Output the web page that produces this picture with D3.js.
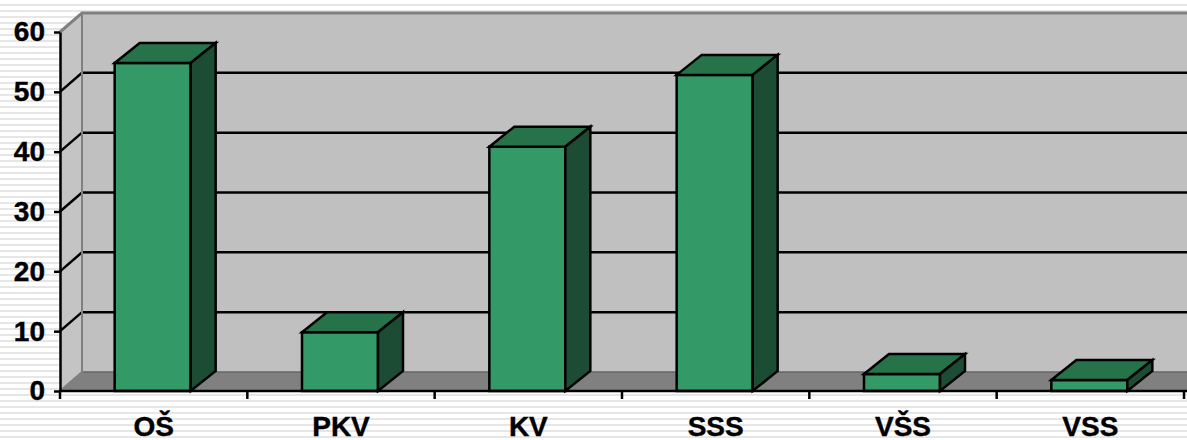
<!DOCTYPE html>
<meta charset="utf-8">
<style>
body { margin: 0; }
.lbl { font: bold 28px "Liberation Sans", Arial, sans-serif; fill: #000; stroke: #000; stroke-width: 0.4px; }
</style>
<div id="chart"></div>
<script src="https://d3js.org/d3.v7.min.js"></script>
<script>

// data
var categories = ["OŠ", "PKV", "KV", "SSS", "VŠS", "VSS"];
var values = [55, 10, 41, 53, 3, 2];
var yTicks = [0, 10, 20, 30, 40, 50, 60];

var width = 1187, height = 440;

// 3d depth of the walls and of the bars
var wallDx = 22, wallDy = -19;
var barDx = 25, barDy = -20;
var barW = 76;

var svg = d3.select("#chart")
  .append("svg")
    .attr("width", width)
    .attr("height", height);

// striped background
var pat = svg.append("defs").append("pattern")
    .attr("id", "stripes")
    .attr("patternUnits", "userSpaceOnUse")
    .attr("width", 8).attr("height", 6);
pat.append("rect").attr("width", 8).attr("height", 6).attr("fill", "#fff");
pat.append("rect").attr("y", 4).attr("width", 8).attr("height", 2).attr("fill", "#e6e6e6");

svg.append("rect")
    .attr("width", width).attr("height", height)
    .attr("fill", "url(#stripes)");

var x = d3.scaleBand()
    .domain(categories)
    .range([60, 1184]);

var y = d3.scaleLinear()
    .domain([0, 60])
    .range([391, 32]);

var y0 = y(0), yTop = y(60);

// back wall
svg.append("rect")
    .attr("x", 60 + wallDx).attr("y", yTop + wallDy)
    .attr("width", width).attr("height", y0 - yTop)
    .attr("fill", "#c0c0c0");

// side wall
svg.append("polygon")
    .attr("points", [[60, yTop], [60 + wallDx, yTop + wallDy], [60 + wallDx, y0 + wallDy], [60, y0]].join(" "))
    .attr("fill", "#c4c4c4");

// floor
svg.append("polygon")
    .attr("points", [[60, y0], [60 + wallDx, y0 + wallDy], [width + 5, y0 + wallDy], [width + 5, y0]].join(" "))
    .attr("fill", "#808080");
svg.append("line")
    .attr("x1", 60 + wallDx).attr("x2", width)
    .attr("y1", y0 + wallDy).attr("y2", y0 + wallDy)
    .attr("stroke", "#666").attr("stroke-width", 1.5);

// gridlines on back wall + diagonals on side wall
var grid = yTicks.filter(function(d) { return d > 0 && d < 60; });
svg.append("g").selectAll("path")
  .data(grid)
  .enter()
  .append("path")
    .attr("d", function(d) {
      return "M60," + y(d) + "L" + (60 + wallDx) + "," + (y(d) + wallDy) + "H" + width;
    })
    .attr("fill", "none")
    .attr("stroke", "#000")
    .attr("stroke-width", 2.5);

// wall edges (gray)
svg.append("path")
    .attr("d", "M60," + yTop + "L" + (60 + wallDx) + "," + (yTop + wallDy) + "H" + width)
    .attr("fill", "none").attr("stroke", "#808080").attr("stroke-width", 3);
svg.append("path")
    .attr("d", "M" + (60 + wallDx) + "," + (yTop + wallDy) + "V" + (y0 + wallDy) + "L60," + y0)
    .attr("fill", "none").attr("stroke", "#808080").attr("stroke-width", 2);

// bars
var bars = svg.append("g").selectAll("g")
  .data(categories.map(function(c, i) { return {name: c, value: values[i]}; }))
  .enter()
  .append("g")
    .attr("stroke", "#000")
    .attr("stroke-width", 2.5)
    .attr("stroke-linejoin", "miter");

function bx(d) { return x(d.name) + (x.bandwidth() - barW) / 2 - 1; }
// front face top sits a touch below the value (the back edge meets the back gridline)
function by(d) { return y(d.value) + 1; }

bars.append("rect")
    .attr("x", bx)
    .attr("y", by)
    .attr("width", barW)
    .attr("height", function(d) { return y0 - by(d); })
    .attr("fill", "#339966");

bars.append("polygon")
    .attr("points", function(d) {
      var l = bx(d), t = by(d);
      return [[l, t], [l + barDx, t + barDy], [l + barW + barDx, t + barDy], [l + barW, t]].join(" ");
    })
    .attr("fill", "#267349");

bars.append("polygon")
    .attr("points", function(d) {
      var r = bx(d) + barW, t = by(d);
      return [[r, t], [r + barDx, t + barDy], [r + barDx, y0 + barDy], [r, y0]].join(" ");
    })
    .attr("fill", "#1c4d34");

// value axis
var yAxis = svg.append("g")
    .attr("transform", "translate(60,0)")
    .call(d3.axisLeft(y).tickValues(yTicks).tickSize(6).tickSizeOuter(0).tickPadding(9));
yAxis.select(".domain").attr("stroke", "#000").attr("stroke-width", 2.5);
yAxis.selectAll(".tick line").attr("stroke", "#000").attr("stroke-width", 2.5);
yAxis.selectAll(".tick text").attr("class", "lbl").attr("font-size", null).attr("font-family", null);

// category axis
svg.append("line")
    .attr("x1", 59).attr("x2", width)
    .attr("y1", y0).attr("y2", y0)
    .attr("stroke", "#000").attr("stroke-width", 2.5);

var bounds = categories.map(function(c) { return x(c); }).concat([x.range()[1]]);
svg.append("g").selectAll("line")
  .data(bounds)
  .enter()
  .append("line")
    .attr("x1", function(d) { return d; }).attr("x2", function(d) { return d; })
    .attr("y1", y0).attr("y2", y0 + 8)
    .attr("stroke", "#000").attr("stroke-width", 2.5);

svg.append("g").selectAll("text")
  .data(categories)
  .enter()
  .append("text")
    .attr("class", "lbl")
    .attr("x", function(d) { return x(d) + x.bandwidth() / 2; })
    .attr("y", 436)
    .attr("text-anchor", "middle")
    .text(function(d) { return d; });

</script>
